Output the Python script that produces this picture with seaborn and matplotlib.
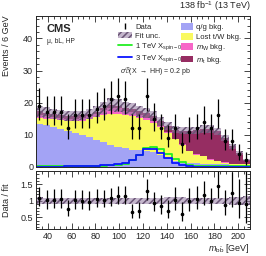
import numpy as np
import pandas as pd
import matplotlib
matplotlib.use("Agg")
import matplotlib.pyplot as plt
import seaborn as sns
from matplotlib.ticker import MultipleLocator, FuncFormatter
from matplotlib.patches import Patch
from matplotlib.lines import Line2D

# --- data ---
mass_edges = list(range(30, 211, 6))          # m_bb bins, 6 GeV wide
mass_centers = [e + 3 for e in mass_edges[:-1]]

qg_bkg = [13.2, 12.9, 12.4, 11.8, 11.2, 10.5, 9.9, 9.2, 8.5, 7.7, 6.8, 6.2, 5.8, 5.4, 5.2,
          4.9, 4.5, 3.8, 2.8, 1.8, 1.3, 1.2, 1.1, 1.0, 1.0, 0.9, 0.8, 0.7, 0.6, 0.5]
lost_tw_bkg = [2.0, 2.1, 2.4, 2.8, 3.2, 3.8, 4.5, 5.6, 6.9, 8.3, 9.6, 10.2, 10.2, 10.4, 10.0,
               9.6, 9.3, 8.6, 7.8, 6.8, 5.6, 3.6, 2.7, 2.3, 1.3, 0.9, 0.5, 0.3, 0.3, 0.3]
mw_bkg = [0.8, 0.7, 0.6, 0.6, 0.6, 0.6, 0.7, 0.9, 1.2, 1.6, 1.9, 1.8, 1.5, 1.3, 1.0,
          0.8, 0.6, 0.4, 0.3, 0.2, 0.1, 0.1, 0.1, 0.1, 0.1, 0.1, 0.1, 0.0, 0.0, 0.0]
mt_bkg = [1.3, 1.1, 1.1, 1.0, 0.9, 0.9, 0.9, 0.7, 0.6, 0.7, 1.1, 0.9, 0.9, 1.0, 1.1,
          1.5, 1.4, 1.4, 1.8, 2.8, 4.3, 6.3, 7.5, 8.4, 9.5, 9.2, 7.6, 5.4, 3.4, 1.4]
fit_unc = [1.8, 1.7, 1.6, 1.6, 1.5, 1.5, 1.5, 1.6, 1.7, 1.8, 1.9, 1.9, 1.8, 1.8, 1.7,
           1.6, 1.5, 1.4, 1.3, 1.2, 1.2, 1.1, 1.1, 1.2, 1.2, 1.1, 0.9, 0.7, 0.5, 0.3]

sig_1tev = [0.2, 0.2, 0.2, 0.2, 0.2, 0.3, 0.3, 0.3, 0.4, 0.4, 0.5, 0.7, 1.0, 2.0, 3.6,
            5.8, 6.3, 5.6, 4.0, 2.5, 1.4, 0.7, 0.4, 0.3, 0.2, 0.2, 0.2, 0.2, 0.2, 0.2]
sig_3tev = [0.1, 0.1, 0.1, 0.1, 0.2, 0.2, 0.2, 0.3, 0.4, 0.5, 0.6, 0.8, 1.2, 2.3, 3.8,
            5.5, 5.5, 4.3, 2.8, 1.2, 0.5, 0.2, 0.1, 0.1, 0.1, 0.1, 0.1, 0.1, 0.1, 0.1]

data_counts = [19, 17, 17, 17, 12, 16, 16, 16, 18, 19, 21, 22, 21, 12, 12,
               22, 15, 12, 9, 12, 7, 11, 12, 14, 12, 16, 8, 8, 4, 2]

proc_names = ["qg", "lost", "mw", "mt"]
proc_colors = {"qg": "#a3a3f5", "lost": "#f9f95f", "mw": "#f766c8", "mt": "#962d62"}
proc_labels = {"qg": "q/g bkg.", "lost": "Lost t/W bkg.",
               "mw": r"$m_{\rm W}$ bkg.", "mt": r"$m_{\rm t}$ bkg."}

# --- style ---
sns.set_style("ticks")
plt.rcParams['font.family'] = ['Liberation Sans', 'DejaVu Sans']
plt.rcParams['mathtext.fontset'] = 'custom'
plt.rcParams['mathtext.rm'] = 'Liberation Sans'
plt.rcParams['mathtext.it'] = 'Liberation Sans:italic'
plt.rcParams['mathtext.bf'] = 'Liberation Sans:bold'
plt.rcParams['hatch.linewidth'] = 1.1

df = pd.DataFrame({
    "mass": np.tile(mass_centers, 4),
    "events": qg_bkg + lost_tw_bkg + mw_bkg + mt_bkg,
    "process": np.repeat(proc_names, len(mass_centers)),
})
edges = np.array(mass_edges)
total = np.array(qg_bkg) + np.array(lost_tw_bkg) + np.array(mw_bkg) + np.array(mt_bkg)
unc = np.array(fit_unc)
n = np.array(data_counts, dtype=float)

# approximate Garwood intervals
lo = n * (1 - 1 / (9 * n) - 1 / (3 * np.sqrt(n))) ** 3
hi = (n + 1) * (1 - 1 / (9 * (n + 1)) + 1 / (3 * np.sqrt(n + 1))) ** 3

fig = plt.figure(figsize=(2.66, 2.56), dpi=100)
ax = fig.add_axes([0.135, 0.348, 0.805, 0.59])
rax = fig.add_axes([0.135, 0.105, 0.805, 0.227], sharex=ax)

sns.histplot(data=df, x="mass", weights="events", hue="process",
             hue_order=proc_names[::-1], palette=proc_colors, multiple="stack",
             bins=mass_edges, element="step", fill=True, alpha=1, linewidth=0,
             legend=False, ax=ax)

sns.histplot(x=mass_centers, weights=sig_1tev, bins=mass_edges, element="step",
             fill=False, color="#22ee22", linewidth=1.3, ax=ax)
sns.histplot(x=mass_centers, weights=sig_3tev, bins=mass_edges, element="step",
             fill=False, color="#0a14ff", linewidth=1.3, ax=ax)

band_face = (0.58, 0.48, 0.64, 0.55)
band_kw = dict(step="post", facecolor=band_face, edgecolor="#6a5576",
               hatch="/////", linewidth=0)
ax.fill_between(edges, np.append(total - unc, (total - unc)[-1]),
                np.append(total + unc, (total + unc)[-1]), **band_kw)
ax.errorbar(mass_centers, n, yerr=[n - lo, hi - n], fmt="o", color="black",
            markersize=1.6, elinewidth=0.9, capsize=0)

rel = unc / total
rax.fill_between(edges, np.append(1 - rel, (1 - rel)[-1]),
                 np.append(1 + rel, (1 + rel)[-1]), **band_kw)
rax.errorbar(mass_centers, n / total, yerr=[(n - lo) / total, (hi - n) / total],
             fmt="o", color="black", markersize=1.6, elinewidth=0.9, capsize=0)

# --- axes ---
ax.set_xlim(30, 210)
ax.set_ylim(0, 47)
rax.set_ylim(0.15, 1.9)
for a in (ax, rax):
    a.tick_params(which="both", direction="in", top=True, right=True, labelsize=6.5,
                  width=0.6, pad=2)
    a.tick_params(which="major", length=4)
    a.tick_params(which="minor", length=2)
    a.xaxis.set_major_locator(MultipleLocator(20))
    a.xaxis.set_minor_locator(MultipleLocator(5))
    for s in a.spines.values():
        s.set_linewidth(0.7)
ax.yaxis.set_major_locator(MultipleLocator(10))
ax.yaxis.set_minor_locator(MultipleLocator(2))
rax.yaxis.set_major_locator(MultipleLocator(0.5))
rax.yaxis.set_minor_locator(MultipleLocator(0.1))
rax.yaxis.set_major_formatter(FuncFormatter(lambda v, p: f"{v:g}"))
ax.tick_params(labelbottom=False)
ax.set_xlabel("")
ax.set_ylabel("Events / 6 GeV", fontsize=6.5, loc="top", labelpad=3)
rax.set_ylabel("Data / fit", fontsize=6.5, labelpad=3)
rax.set_xlabel(r"$m_{\rm b\bar{b}}$ [GeV]", fontsize=6.5, loc="right", labelpad=1)
ax.yaxis.set_label_coords(-0.115, 1.0)
rax.yaxis.set_label_coords(-0.115, 0.5)

# --- labels ---
ax.text(1.0, 1.02, r"138 fb$^{-1}$ (13 TeV)", transform=ax.transAxes,
        ha="right", va="bottom", fontsize=6.5)
ax.text(0.05, 0.915, "CMS", transform=ax.transAxes, fontsize=8, fontweight="bold",
        va="center")
ax.text(0.05, 0.83, "μ, bL, HP", transform=ax.transAxes, fontsize=4.8, va="center")

left_handles = [
    Line2D([], [], color="black", marker="|", markersize=5, linestyle="none"),
    Patch(facecolor=band_face, edgecolor="#6a5576", hatch="/////", linewidth=0),
    Line2D([], [], color="#22ee22", linewidth=1.3),
    Line2D([], [], color="#0a14ff", linewidth=1.3),
]
left_labels = ["Data", "Fit unc.", r"1 TeV X$_{\rm spin-0}$", r"3 TeV X$_{\rm spin-0}$"]
leg1 = ax.legend(left_handles, left_labels, loc="upper left", bbox_to_anchor=(0.37, 0.97),
                 frameon=False, fontsize=5.5, handlelength=1.8, handletextpad=0.45,
                 labelspacing=0.18, borderaxespad=0)
ax.add_artist(leg1)

right_handles = [Patch(facecolor=proc_colors[p], linewidth=0) for p in proc_names]
ax.legend(right_handles, [proc_labels[p] for p in proc_names], loc="upper left",
          bbox_to_anchor=(0.665, 0.97), frameon=False, fontsize=5.5,
          handlelength=1.5, handleheight=1.0, handletextpad=0.45, labelspacing=0.18,
          borderaxespad=0)
ax.text(0.395, 0.632, r"$\sigma\mathcal{B}$(X $\rightarrow$ HH) = 0.2 pb",
        transform=ax.transAxes, fontsize=5, va="center")

fig.savefig("out.png", dpi=100)
